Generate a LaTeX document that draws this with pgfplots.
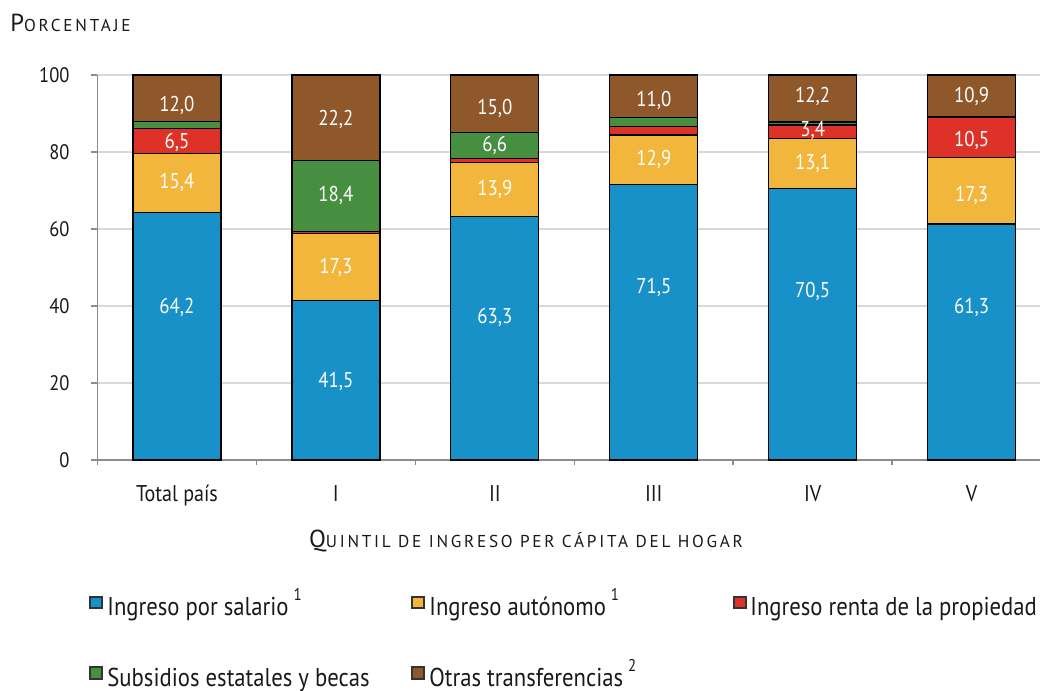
\documentclass[border=0pt]{standalone}
\usepackage{fontspec}
\setmainfont{PT Sans}[FakeStretch=0.88]
\newfontfamily\capsfont{PT Sans}[LetterSpace=16]
\usepackage{pgfplots}
\usepackage{pgfplotstable}
\pgfplotsset{compat=1.18}

\definecolor{salario} {RGB}{24,145,200}
\definecolor{autonomo}{RGB}{243,182,61}
\definecolor{renta}   {RGB}{222,50,40}
\definecolor{subsidio}{RGB}{70,142,64}
\definecolor{otras}   {RGB}{142,88,42}
\definecolor{rejilla} {RGB}{217,217,217}
\definecolor{ejes}    {RGB}{140,140,140}
\definecolor{texto}   {RGB}{25,25,25}

% versalitas a mano: inicial grande + resto en mayusculas pequenas
\newcommand{\vsc}[2]{{\capsfont\fontsize{12.3}{14}\selectfont #1}{\capsfont\fontsize{8.6}{9}\selectfont #2}}
\newcommand{\nota}[1]{\hspace{2.5pt}\raisebox{7.5pt}{\fontsize{8.5}{9}\selectfont #1}}

%% composicion del ingreso por quintil (%)
\pgfplotstableread{
x  sal   aut   ren   sub   otr
0  64.2  15.4  6.5   1.9   12.0
1  41.5  17.3  0.6   18.4  22.2
2  63.3  13.9  1.2   6.6   15.0
3  71.5  12.9  2.3   2.3   11.0
4  70.5  13.1  3.4   0.8   12.2
5  61.3  17.3  10.5  0.0   10.9
}\ingresos

%% etiquetas de los segmentos (posicion vertical)
\pgfplotstableread{
x  y     lab
0  39.6  {64,2}
0  72.0  {15,4}
0  82.4  {6,5}
0  92.0  {12,0}
1  20.3  {41,5}
1  49.9  {17,3}
1  68.8  {18,4}
1  88.5  {22,2}
2  37.1  {63,3}
2  70.3  {13,9}
2  81.8  {6,6}
2  91.4  {15,0}
3  44.7  {71,5}
3  78.1  {12,9}
3  93.5  {11,0}
4  43.9  {70,5}
4  76.9  {13,1}
4  85.6  {3,4}
4  94.4  {12,2}
5  39.7  {61,3}
5  68.8  {17,3}
5  83.1  {10,5}
5  94.4  {10,9}
}\etiquetas

\begin{document}
\begin{tikzpicture}

\begin{axis}[
  scale only axis,
  width=471.25pt, height=192.5pt,
  xmin=-0.5, xmax=5.43, ymin=0, ymax=100,
  enlargelimits=false,
  ybar stacked, bar width=44pt,
  axis x line*=bottom, axis y line*=left,
  axis line style={ejes, line width=0.8pt, -},
  tick align=outside,
  tick style={ejes, line width=0.8pt},
  major tick length=3pt, minor tick length=2.5pt,
  ytick={0,20,...,100},
  ymajorgrids, grid style={rejilla, line width=0.8pt},
  xtick={0,...,5},
  xticklabels={Total país,I,II,III,IV,V},
  major x tick style={draw=none},
  minor xtick={-0.5,0.5,...,5.5},
  xticklabel style={font=\fontsize{11.4}{13}\selectfont, texto, yshift=-6pt},
  yticklabel style={font=\fontsize{10.5}{12}\selectfont, texto, xshift=-7.5pt},
  /pgf/number format/assume math mode=true,
]
\addplot[fill=salario,  draw=black, line width=0.6pt] table[x=x, y=sal] {\ingresos};
\addplot[fill=autonomo, draw=black, line width=0.6pt] table[x=x, y=aut] {\ingresos};
\addplot[fill=renta,    draw=black, line width=0.6pt] table[x=x, y=ren] {\ingresos};
\addplot[fill=subsidio, draw=black, line width=0.6pt] table[x=x, y=sub] {\ingresos};
\addplot[fill=otras,    draw=black, line width=0.6pt] table[x=x, y=otr] {\ingresos};
\end{axis}

%% capa de etiquetas, mismo sistema de coordenadas
\begin{axis}[
  scale only axis,
  width=471.25pt, height=192.5pt,
  xmin=-0.5, xmax=5.43, ymin=0, ymax=100,
  hide axis, clip=false,
]
\addplot[only marks, mark=*, mark size=0pt, mark options={draw=none, fill=none},
  nodes near coords, point meta=explicit symbolic,
  every node near coord/.append style={anchor=center, white,
    font=\fontsize{10.7}{12}\selectfont}]
  table[x=x, y=y, meta=lab] {\etiquetas};
\end{axis}

%% titulos y leyenda, en pixeles de la imagen de referencia
\begin{scope}[x=0.5pt, y=-0.5pt, shift={(-48.75pt,230pt)}]
  \node[anchor=base west, inner sep=0, texto] at (10,32) {\vsc{P}{ORCENTAJE}};
  \node[anchor=base, inner sep=0, texto] at (526,547)
    {\vsc{Q}{UINTIL DE INGRESO PER CÁPITA DEL HOGAR}};

  \filldraw[fill=salario,  draw=black!80, line width=0.6pt] (90,597) rectangle (102,608);
  \filldraw[fill=autonomo, draw=black!80, line width=0.6pt] (412,597) rectangle (424,608);
  \filldraw[fill=renta,    draw=black!80, line width=0.6pt] (734,597) rectangle (746,608);
  \filldraw[fill=subsidio, draw=black!80, line width=0.6pt] (90,667) rectangle (102,679);
  \filldraw[fill=otras,    draw=black!80, line width=0.6pt] (412,667) rectangle (424,679);

  \begin{scope}[every node/.style={anchor=base west, inner sep=0, texto,
      font=\fontsize{12.9}{14}\selectfont}]
    \node at (107,615) {Ingreso por salario\nota{1}};
    \node at (429,615) {Ingreso autónomo\nota{1}};
    \node at (750,615) {Ingreso renta de la propiedad\nota{1}};
    \node at (107,686) {Subsidios estatales y becas};
    \node at (429,686) {Otras transferencias\nota{2}};
  \end{scope}

  \pgfresetboundingbox
  \path[use as bounding box] (0,0) rectangle (1040,691);
\end{scope}

\end{tikzpicture}
\end{document}
